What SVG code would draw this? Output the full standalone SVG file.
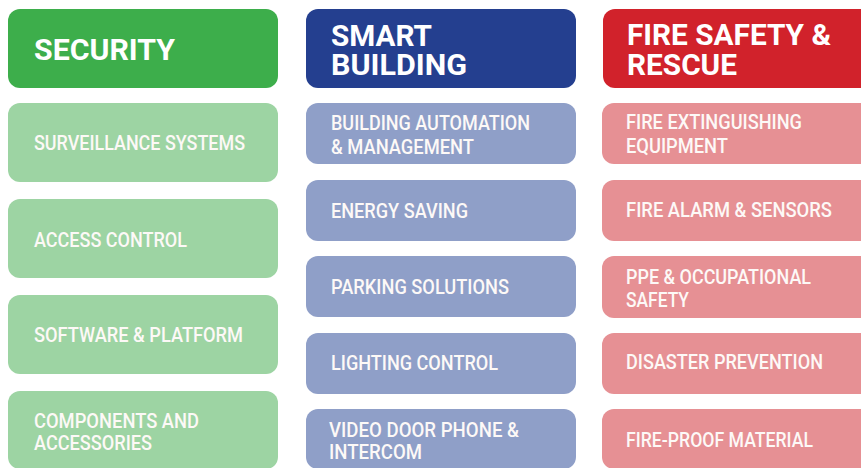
<svg xmlns="http://www.w3.org/2000/svg" width="861" height="468" viewBox="0 0 861 468">
<style>
.hd{font-family:Roboto,"Liberation Sans",sans-serif;font-weight:700;font-size:30px;fill:#ffffff}
.it{font-family:Roboto,"Liberation Sans",sans-serif;font-weight:500;font-size:20px;fill:#fdf9f7}
.gH{fill:#3dae4b}.gB{fill:#9dd4a3}
.bH{fill:#243f8f}.bB{fill:#8f9fc8}
.rH{fill:#d1222b}.rB{fill:#e69094}
</style>
<rect width="861" height="468" fill="#ffffff"/>
<g id="security">
<rect class="gH" x="8" y="9" width="270" height="79" rx="12"/>
<text class="hd" x="34" y="60" textLength="141" lengthAdjust="spacingAndGlyphs">SECURITY</text>
</g>
<g id="surveillance"><rect class="gB" x="8" y="103" width="270" height="79" rx="12"/><text class="it" x="34" y="150" textLength="211" lengthAdjust="spacingAndGlyphs">SURVEILLANCE SYSTEMS</text></g>
<g id="access"><rect class="gB" x="8" y="199" width="270" height="79" rx="12"/><text class="it" x="34" y="247" textLength="153" lengthAdjust="spacingAndGlyphs">ACCESS CONTROL</text></g>
<g id="software"><rect class="gB" x="8" y="295" width="270" height="79" rx="12"/><text class="it" x="34" y="342" textLength="209" lengthAdjust="spacingAndGlyphs">SOFTWARE &amp; PLATFORM</text></g>
<g id="components"><rect class="gB" x="8" y="391" width="270" height="78" rx="12"/><text class="it" x="34" y="428" textLength="165" lengthAdjust="spacingAndGlyphs">COMPONENTS AND</text><text class="it" x="34" y="450" textLength="118" lengthAdjust="spacingAndGlyphs">ACCESSORIES</text></g>

<g id="smart-building">
<rect class="bH" x="306" y="9" width="270" height="79" rx="12"/>
<text class="hd" x="331" y="46" textLength="101" lengthAdjust="spacingAndGlyphs">SMART</text>
<text class="hd" x="331" y="75" textLength="136" lengthAdjust="spacingAndGlyphs">BUILDING</text>
</g>
<g id="automation"><rect class="bB" x="306" y="103" width="270" height="61" rx="12"/><text class="it" x="331" y="130" textLength="199" lengthAdjust="spacingAndGlyphs">BUILDING AUTOMATION</text><text class="it" x="331" y="154" textLength="143" lengthAdjust="spacingAndGlyphs">&amp; MANAGEMENT</text></g>
<g id="energy"><rect class="bB" x="306" y="180" width="270" height="61" rx="12"/><text class="it" x="331" y="218" textLength="137" lengthAdjust="spacingAndGlyphs">ENERGY SAVING</text></g>
<g id="parking"><rect class="bB" x="306" y="256" width="270" height="61" rx="12"/><text class="it" x="331" y="294" textLength="178" lengthAdjust="spacingAndGlyphs">PARKING SOLUTIONS</text></g>
<g id="lighting"><rect class="bB" x="306" y="333" width="270" height="61" rx="12"/><text class="it" x="331" y="370" textLength="167" lengthAdjust="spacingAndGlyphs">LIGHTING CONTROL</text></g>
<g id="videodoor"><rect class="bB" x="306" y="409" width="270" height="60" rx="12"/><text class="it" x="329" y="437" textLength="190" lengthAdjust="spacingAndGlyphs">VIDEO DOOR PHONE &amp;</text><text class="it" x="329" y="459" textLength="93" lengthAdjust="spacingAndGlyphs">INTERCOM</text></g>

<g id="fire-safety">
<rect class="rH" x="603" y="9" width="270" height="79" rx="12"/>
<text class="hd" x="627" y="45" textLength="204" lengthAdjust="spacingAndGlyphs">FIRE SAFETY &amp;</text>
<text class="hd" x="627" y="75" textLength="110" lengthAdjust="spacingAndGlyphs">RESCUE</text>
</g>
<g id="extinguishing"><rect class="rB" x="602" y="103" width="270" height="61" rx="12"/><text class="it" x="626" y="129" textLength="176" lengthAdjust="spacingAndGlyphs">FIRE EXTINGUISHING</text><text class="it" x="626" y="153" textLength="102" lengthAdjust="spacingAndGlyphs">EQUIPMENT</text></g>
<g id="alarm"><rect class="rB" x="602" y="180" width="270" height="61" rx="12"/><text class="it" x="626" y="217" textLength="206" lengthAdjust="spacingAndGlyphs">FIRE ALARM &amp; SENSORS</text></g>
<g id="ppe"><rect class="rB" x="602" y="256" width="270" height="62" rx="12"/><text class="it" x="626" y="284" textLength="185" lengthAdjust="spacingAndGlyphs">PPE &amp; OCCUPATIONAL</text><text class="it" x="626" y="307" textLength="63" lengthAdjust="spacingAndGlyphs">SAFETY</text></g>
<g id="disaster"><rect class="rB" x="602" y="333" width="270" height="61" rx="12"/><text class="it" x="626" y="369" textLength="197" lengthAdjust="spacingAndGlyphs">DISASTER PREVENTION</text></g>
<g id="fireproof"><rect class="rB" x="602" y="409" width="270" height="60" rx="12"/><text class="it" x="626" y="447" textLength="187" lengthAdjust="spacingAndGlyphs">FIRE-PROOF MATERIAL</text></g>
<g id="connectors"/>
</svg>
